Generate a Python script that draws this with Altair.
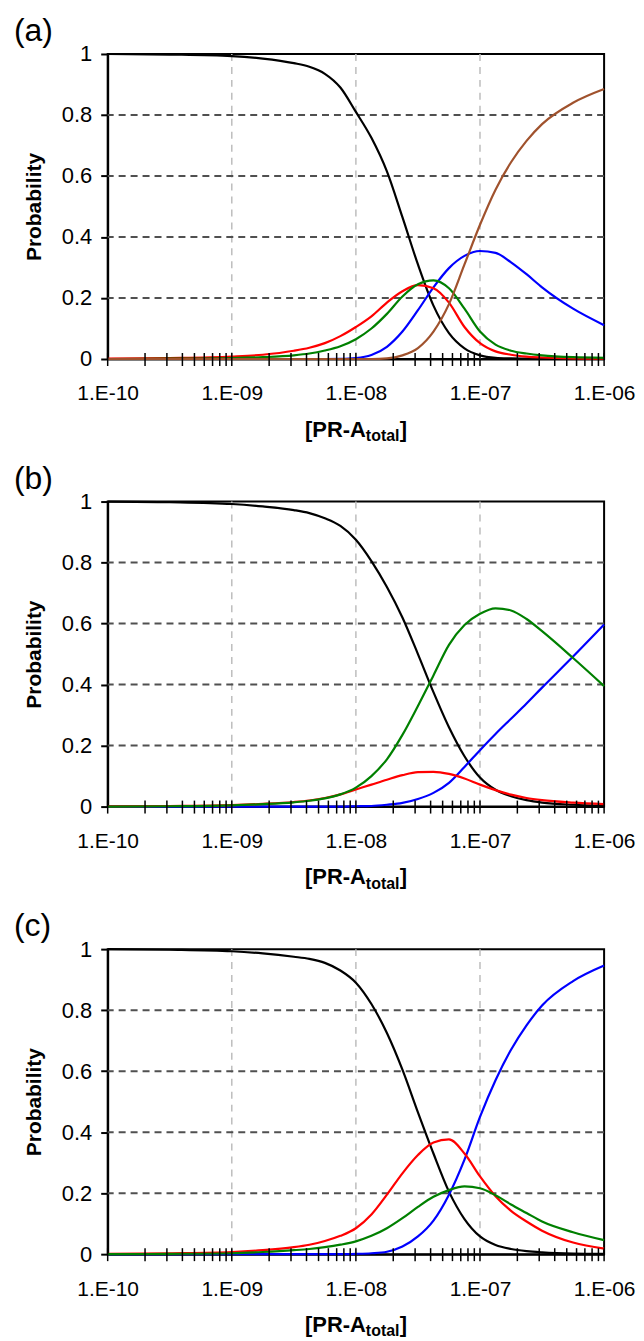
import altair as alt
import pandas as pd

# concentration grid, [PR-A_total] (M)
conc = [1e-10, 3.162e-10, 1e-9, 1.778e-9, 3.162e-9, 4.217e-9, 5.623e-9, 7.499e-9,
        1e-8, 1.334e-8, 1.778e-8, 2.371e-8, 3.162e-8, 4.217e-8, 5.623e-8,
        7.499e-8, 1e-7, 1.334e-7, 1.778e-7, 2.371e-7, 3.162e-7, 5.623e-7, 1e-6]

# panel (a)
a_black = [1.0, 0.998, 0.993, 0.985, 0.97, 0.958, 0.935, 0.89, 0.81, 0.725, 0.615, 0.465,
           0.31, 0.175, 0.085, 0.035, 0.012, 0.004, 0.002, 0.001, 0.0, 0.0, 0.0]
a_red = [0.001, 0.003, 0.008, 0.014, 0.027, 0.037, 0.052, 0.075, 0.105, 0.14, 0.185, 0.222,
         0.242, 0.232, 0.185, 0.105, 0.052, 0.025, 0.014, 0.008, 0.005, 0.002, 0.001]
a_green = [0.0, 0.001, 0.003, 0.006, 0.012, 0.018, 0.028, 0.042, 0.065, 0.1, 0.148, 0.205,
           0.245, 0.258, 0.232, 0.165, 0.09, 0.047, 0.027, 0.018, 0.012, 0.006, 0.004]
a_blue = [0.0, 0.0, 0.0, 0.0, 0.0, 0.0, 0.0, 0.0005, 0.003, 0.013, 0.04, 0.09,
          0.16, 0.235, 0.298, 0.338, 0.354, 0.348, 0.317, 0.278, 0.235, 0.165, 0.111]
a_brown = [0.0, 0.0, 0.0, 0.0, 0.0, 0.0, 0.0, 0.0, 0.0, 0.0, 0.002, 0.012,
           0.036, 0.09, 0.18, 0.31, 0.44, 0.555, 0.645, 0.715, 0.77, 0.84, 0.885]

# panel (b)
b_black = [1.0, 0.998, 0.992, 0.984, 0.972, 0.962, 0.945, 0.92, 0.875, 0.805, 0.72, 0.62,
           0.5, 0.375, 0.26, 0.165, 0.095, 0.055, 0.034, 0.021, 0.013, 0.006, 0.003]
b_red = [0.0005, 0.002, 0.005, 0.009, 0.015, 0.02, 0.028, 0.04, 0.056, 0.072, 0.088, 0.103,
         0.113, 0.114, 0.107, 0.092, 0.072, 0.054, 0.039, 0.028, 0.021, 0.013, 0.008]
b_green = [0.0, 0.001, 0.004, 0.008, 0.014, 0.019, 0.027, 0.04, 0.062, 0.1, 0.155, 0.235,
           0.33, 0.43, 0.53, 0.595, 0.632, 0.65, 0.643, 0.615, 0.575, 0.487, 0.395]
b_blue = [0.0, 0.0, 0.0, 0.0, 0.0, 0.0, 0.0, 0.0, 0.001, 0.002, 0.006, 0.012,
          0.025, 0.045, 0.078, 0.13, 0.185, 0.238, 0.288, 0.338, 0.39, 0.492, 0.597]

# panel (c)
c_black = [1.0, 0.998, 0.993, 0.986, 0.975, 0.968, 0.955, 0.93, 0.89, 0.82, 0.725, 0.605,
           0.465, 0.33, 0.205, 0.115, 0.058, 0.03, 0.017, 0.01, 0.006, 0.002, 0.001]
c_red = [0.001, 0.003, 0.007, 0.013, 0.023, 0.031, 0.043, 0.06, 0.085, 0.13, 0.195, 0.265,
         0.325, 0.366, 0.376, 0.33, 0.255, 0.19, 0.142, 0.107, 0.077, 0.038, 0.018]
c_green = [0.0, 0.001, 0.003, 0.007, 0.013, 0.017, 0.023, 0.031, 0.042, 0.06, 0.085, 0.118,
           0.155, 0.188, 0.21, 0.222, 0.216, 0.193, 0.163, 0.135, 0.107, 0.072, 0.046]
c_blue = [0.0, 0.0, 0.0, 0.0, 0.0, 0.0, 0.0, 0.0, 0.001, 0.003, 0.008, 0.025,
          0.058, 0.11, 0.195, 0.31, 0.45, 0.57, 0.67, 0.75, 0.815, 0.895, 0.946]

x_major = [1e-10, 1e-9, 1e-8, 1e-7, 1e-6]
x_grid = [1e-9, 1e-8, 1e-7]
y_ticks = [0, 0.2, 0.4, 0.6, 0.8, 1.0]
y_grid = [0.2, 0.4, 0.6, 0.8]
x_minor = [m * e for e in [1e-10, 1e-9, 1e-8, 1e-7] for m in range(1, 10)] + [1e-6]

draw_order = ["black", "blue", "red", "green", "brown"]
colors = {"black": "#000000", "blue": "#0000ff", "red": "#ff0000",
          "green": "#008000", "brown": "#a0522d"}

W, H = 498, 306
FONT = "Liberation Sans"
xscale = alt.Scale(type="log", domain=[1e-10, 1e-6], nice=False)
yscale = alt.Scale(domain=[0, 1], nice=False, zero=False)

x_axis = alt.Axis(
    values=x_major, title=None, grid=False, ticks=False, tickSize=0,
    labelExpr="'1.E-' + format(round(-log(datum.value)/LN10), '02d')",
    domainColor="black", domainWidth=2, labelFont=FONT, labelFontSize=21,
    labelColor="black", labelPadding=24, labelOverlap=False, labelFlush=False)
y_axis = alt.Axis(
    values=y_ticks, format=".1~f", grid=False, tickSize=7, tickWidth=2,
    tickColor="black", domainColor="black", domainWidth=2,
    labelFont=FONT, labelFontSize=22, labelColor="black", labelPadding=9,
    labelFlush=False,
    title="Probability", titleFont=FONT, titleFontSize=21,
    titleFontWeight="bold", titleColor="black", titleX=-73, titleY=H / 2,
    titleAlign="center", titleBaseline="middle")


def panel(label, series):
    rows = []
    names = [n for n in draw_order if n in series]
    for n in names:
        for c, p in zip(conc, series[n]):
            rows.append({"conc": c, "prob": p, "species": n})
    df = pd.DataFrame(rows)

    vgrid = alt.Chart(pd.DataFrame({"conc": x_grid})).mark_rule(
        color="#bdbdbd", strokeWidth=1.5, strokeDash=[7, 6]
    ).encode(x=alt.X("conc:Q", scale=xscale, axis=x_axis))

    hgrid = alt.Chart(pd.DataFrame({"prob": y_grid})).mark_rule(
        color="#505050", strokeWidth=2, strokeDash=[7, 5]
    ).encode(y=alt.Y("prob:Q", scale=yscale, axis=y_axis))

    lines = alt.Chart(df).mark_line(strokeWidth=2.2, interpolate="monotone").encode(
        x=alt.X("conc:Q", scale=xscale, axis=x_axis),
        y=alt.Y("prob:Q", scale=yscale, axis=y_axis),
        color=alt.Color("species:N", legend=None, scale=alt.Scale(
            domain=names, range=[colors[n] for n in names])),
    )

    ticks = alt.Chart(pd.DataFrame({"conc": x_minor})).mark_rule(
        color="black", strokeWidth=1.5
    ).encode(x=alt.X("conc:Q", scale=xscale, axis=x_axis),
             y=alt.value(H - 6), y2=alt.value(H + 7))

    def txt(s, size, align, x, y, weight="bold", baseline="alphabetic"):
        return alt.Chart(pd.DataFrame({"s": [s]})).mark_text(
            font=FONT, fontSize=size, fontWeight=weight, align=align,
            baseline=baseline, color="black"
        ).encode(x=alt.value(x), y=alt.value(y), text="s:N")

    t1 = txt("[PR-A", 22, "right", W / 2 + 10, H + 78)
    t2 = txt("total", 16, "left", W / 2 + 10, H + 82.5)
    t3 = txt("]", 22, "left", W / 2 + 44, H + 78)
    tl = txt(label, 32, "left", -94, -38, weight="normal", baseline="top")

    return alt.layer(vgrid, hgrid, lines, ticks, t1, t2, t3, tl).properties(
        width=W, height=H)


pa = panel("(a)", {"black": a_black, "red": a_red, "green": a_green,
                   "blue": a_blue, "brown": a_brown})
pb = panel("(b)", {"black": b_black, "red": b_red, "green": b_green,
                   "blue": b_blue})
pc = panel("(c)", {"black": c_black, "red": c_red, "green": c_green,
                   "blue": c_blue})

chart = alt.vconcat(pa, pb, pc, spacing=16).properties(
    padding={"left": 5, "top": 4, "right": 0, "bottom": 0}
).configure_view(stroke="black", strokeWidth=2)

chart.save("out.html", embed_options={"renderer": "svg", "actions": False})
